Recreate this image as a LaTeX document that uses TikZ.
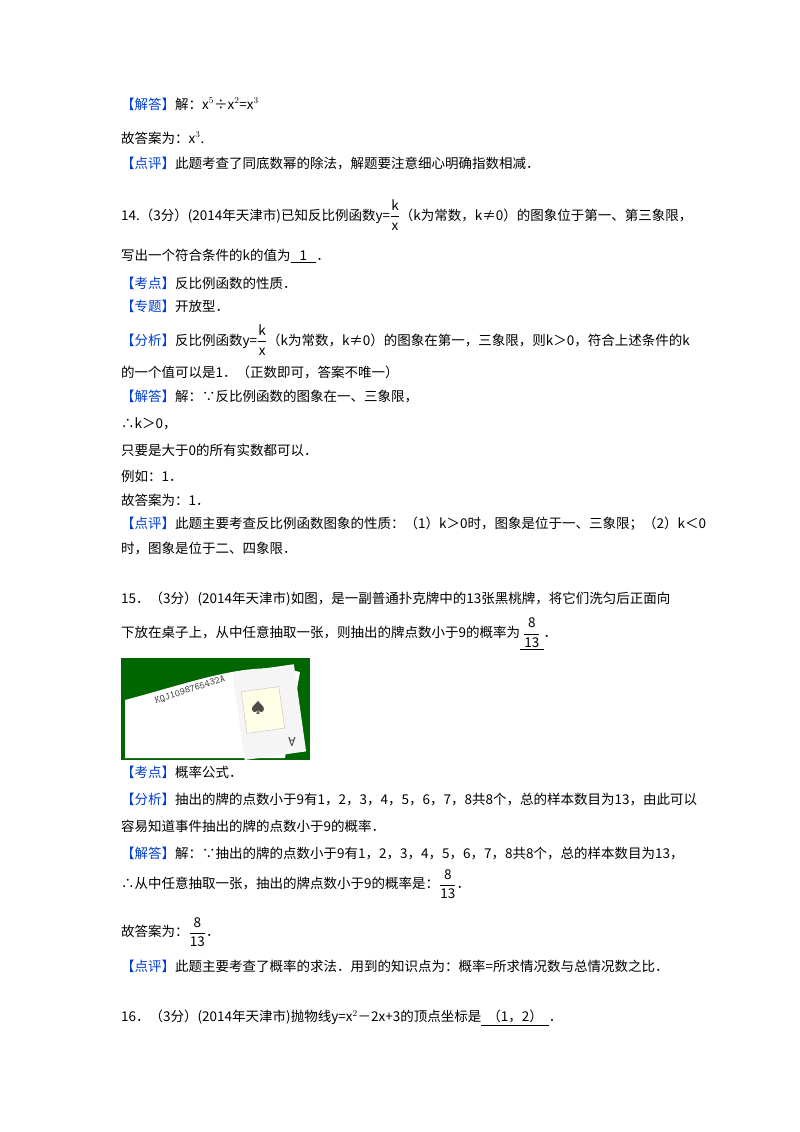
\documentclass[tikz,border=0pt]{standalone}
\usepackage{fontspec}
\setmainfont{Noto Sans CJK SC}
\usepackage{amssymb}
\begin{document}
\begin{tikzpicture}[x=1pt,y=-1pt,
  t/.style={anchor=west,inner sep=0pt,font=\fontsize{13.5}{16}\selectfont}]
\useasboundingbox[fill=white] (0,0) rectangle (800,1132);
\newcommand{\B}[1]{\textcolor{blue!70!cyan!80!black}{【#1】}}
\newcommand{\Fr}[2]{$\displaystyle\frac{\mathrm{#1}}{\mathrm{#2}}$}
\node[t] (l1) at (121,104) {\B{解答}解：x$^5$÷x$^2$=x$^3$};
\node[t] (l2) at (121,138) {故答案为：x$^3$.};
\node[t] (l3) at (121,163) {\B{点评}此题考查了同底数幂的除法，解题要注意细心明确指数相减．};
\node[t] (l4) at (121,215) {14.（3分）(2014年天津市)已知反比例函数y=\Fr{k}{x}（k为常数，k≠0）的图象位于第一、第三象限，};
\node[t] (l5) at (121,256) {写出一个符合条件的k的值为\underline{\ \ \ 1\ \ \ }．};
\node[t] (l6) at (121,283) {\B{考点}反比例函数的性质．};
\node[t] (l7) at (121,306) {\B{专题}开放型．};
\node[t] (l8) at (121,340) {\B{分析}反比例函数y=\Fr{k}{x}（k为常数，k≠0）的图象在第一，三象限，则k＞0，符合上述条件的k};
\node[t] (l9) at (121,372) {的一个值可以是1．（正数即可，答案不唯一）};
\node[t] (l10) at (121,397) {\B{解答}解：∵反比例函数的图象在一、三象限，};
\node[t] (l11) at (121,424) {∴k＞0，};
\node[t] (l12) at (121,450) {只要是大于0的所有实数都可以．};
\node[t] (l13) at (121,476) {例如：1．};
\node[t] (l14) at (121,500) {故答案为：1．};
\node[t] (l15) at (121,524) {\B{点评}此题主要考查反比例函数图象的性质：（1）k＞0时，图象是位于一、三象限；（2）k＜0};
\node[t] (l16) at (121,548) {时，图象是位于二、四象限．};
\node[t] (l17) at (121,599) {15．（3分）(2014年天津市)如图，是一副普通扑克牌中的13张黑桃牌，将它们洗匀后正面向};
\node[t] (l18) at (121,634) {下放在桌子上，从中任意抽取一张，则抽出的牌点数小于9的概率为\underline{\ \Fr{8}{13}\ }．};
% card picture
\fill[green!40!black] (121,658) rectangle (310,760);
\fill[white] (125,700) .. controls (200,680) and (250,660) .. (300,672) -- (285,758) -- (125,758) -- cycle;
\fill[white!92!gray,rotate around={8:(270,710)}] (238,668) rectangle (300,756);
\fill[yellow!10!white,draw=gray!50,rotate around={8:(270,710)}] (244,688) rectangle (282,730);
\node[font=\Large,text=gray!60!black] (sp) at (258,708) {♠};
\node[font=\large,text=black!80,rotate=180] (ac) at (292,742) {A};
\node[font=\ttfamily,text=black!80,rotate=18] (ranks) at (190,690) {KQJ1098765432A};
\node[t] (l19) at (121,772) {\B{考点}概率公式．};
\node[t] (l20) at (121,800) {\B{分析}抽出的牌的点数小于9有1，2，3，4，5，6，7，8共8个，总的样本数目为13，由此可以};
\node[t] (l21) at (121,826) {容易知道事件抽出的牌的点数小于9的概率．};
\node[t] (l22) at (121,854) {\B{解答}解：∵抽出的牌的点数小于9有1，2，3，4，5，6，7，8共8个，总的样本数目为13，};
\node[t] (l23) at (121,884) {∴从中任意抽取一张，抽出的牌点数小于9的概率是：\Fr{8}{13}．};
\node[t] (l24) at (121,932) {故答案为：\Fr{8}{13}．};
\node[t] (l25) at (121,966) {\B{点评}此题主要考查了概率的求法．用到的知识点为：概率=所求情况数与总情况数之比．};
\node[t] (l26) at (121,1018) {16．（3分）(2014年天津市)抛物线y=x$^2$－2x+3的顶点坐标是\underline{\ \ （1，2）\ \ }．};
\end{tikzpicture}
\end{document}
